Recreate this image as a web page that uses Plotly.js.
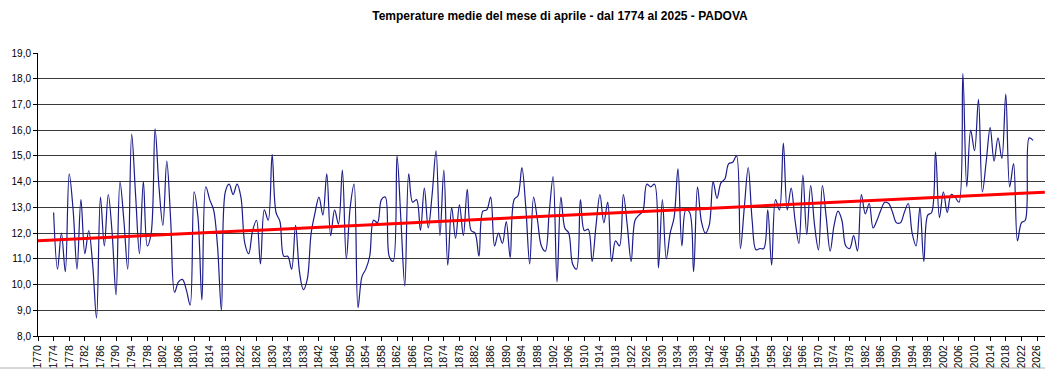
<!DOCTYPE html>
<html>
<head>
<meta charset="utf-8">
<script src="https://cdn.plot.ly/plotly-3.0.1.min.js"></script>
<style>
html,body{margin:0;padding:0;background:#fff;}
#chart{width:1045px;height:370px;}
</style>
</head>
<body>
<div id="chart"></div>
<script>
// First year of the series
var startYear = 1774;

// Mean April temperatures (°C), Padova, 1774–2025
var temps1774_1799 = [12.8,10.6,12.0,10.5,14.3,12.9,10.6,13.3,11.2,12.1,10.8,8.7,13.4,11.5,13.5,12.0,9.6,14.0,12.5,10.6,15.85,13.5,11.2,14.0,11.5,12.0];
var temps1800_1849 = [16.05,13.8,12.3,14.8,12.5,9.7,10.1,10.2,9.8,9.2,13.6,12.6,9.4,13.8,13.3,12.9,11.5,9.0,13.6,13.9,13.5,13.9,13.4,11.6,11.2,12.1,12.5,10.8,12.9,12.5,15.05,12.8,12.45,11.1,11.1,10.6,12.3,10.5,9.8,10.2,12.0,12.8,13.4,12.7,14.3,11.9,12.9,12.35,14.45,11.0];
var temps1850_1899 = [13.0,13.9,9.1,10.3,10.6,11.1,12.5,12.4,13.3,13.4,11.1,10.9,15.0,12.5,9.95,14.3,13.2,13.3,12.1,13.75,12.2,13.5,15.2,11.9,14.45,10.75,13.0,11.8,13.1,11.9,13.7,12.1,12.0,11.1,12.85,12.9,13.4,11.5,12.0,11.6,12.45,11.05,13.3,13.45,14.55,13.0,10.8,13.4,12.5,11.5];
var temps1900_1949 = [11.3,12.8,14.2,10.1,13.4,12.2,12.0,10.8,10.6,13.3,12.1,12.15,10.9,12.3,13.5,12.4,13.2,10.9,11.7,11.5,13.5,12.3,10.9,12.5,12.7,12.85,13.9,13.8,13.9,10.65,13.3,11.0,12.0,12.6,14.5,11.5,12.9,12.8,10.5,13.8,12.45,12.0,12.3,14.0,13.35,13.95,14.1,14.7,14.75,15.0];
var temps1950_1999 = [11.4,13.0,14.55,12.5,11.35,11.4,11.4,12.9,10.75,13.3,12.9,15.5,12.9,13.75,12.5,11.6,14.25,11.95,13.85,12.3,11.35,13.85,12.6,11.3,12.3,12.85,12.5,11.5,11.4,11.9,11.3,13.5,12.75,13.15,12.2,12.5,12.9,13.2,13.15,12.8,12.4,12.4,12.8,13.15,12.0,11.5,13.0,10.9,12.7,12.8];
var temps2000_2025 = [15.15,12.6,13.6,12.8,13.5,13.4,13.2,18.2,13.8,16.0,15.2,17.2,13.6,14.8,16.1,14.8,15.7,14.9,17.4,13.8,14.7,11.7,12.4,12.5,15.7,15.6];

// Linear trend line (end points)
var trendYears = [1770, 2028];
var trendValues = [11.70, 13.59];

// Axis tick years
var tickYears = [];
for (var t = 1770; t <= 2026; t += 4) tickYears.push(t);

var temps = [].concat(temps1774_1799, temps1800_1849, temps1850_1899, temps1900_1949, temps1950_1999, temps2000_2025);
var years = temps.map(function(_, i){ return startYear + i; });

var data = [
  {x: years, y: temps, type: 'scatter', mode: 'lines',
   line: {color: '#1c1c8a', width: 1.2, shape: 'spline', smoothing: 1},
   hoverinfo: 'x+y', showlegend: false},
  {x: trendYears, y: trendValues, type: 'scatter', mode: 'lines',
   line: {color: '#ff0000', width: 3}, showlegend: false}
];

var layout = {
  width: 1045, height: 370,
  margin: {l: 38, r: 0, t: 53, b: 34, pad: 0},
  paper_bgcolor: '#ffffff', plot_bgcolor: '#ffffff',
  separators: ',.',
  font: {family: 'Liberation Sans, Arial, sans-serif', size: 10, color: '#000'},
  title: {text: '<b>Temperature medie del mese di aprile - dal 1774 al 2025 - PADOVA</b>',
          x: 560/1045, xref: 'container', xanchor: 'center',
          y: 1 - 16/370, yref: 'container', yanchor: 'middle',
          font: {family: 'Liberation Sans Narrow, Arial Narrow, Liberation Sans, sans-serif', size: 12, color: '#000'}},
  xaxis: {range: [1770, 2028.05], tickmode: 'array', tickvals: tickYears,
          ticktext: tickYears.map(String), tickangle: -90,
          tickfont: {size: 10.5, family: 'Liberation Sans, Arial, sans-serif'},
          showgrid: false, zeroline: false, showline: true, linecolor: '#000', linewidth: 1,
          ticks: 'outside', ticklen: 4, tickcolor: '#000', fixedrange: true},
  yaxis: {range: [8, 19], dtick: 1, tick0: 8, tickformat: '.1f',
          tickfont: {size: 10, family: 'Liberation Sans, Arial, sans-serif'},
          showgrid: true, gridcolor: '#3a3a3a', gridwidth: 1, zeroline: false,
          showline: true, linecolor: '#000', linewidth: 1,
          ticks: 'outside', ticklen: 4, tickcolor: '#000', fixedrange: true},
  shapes: [
    {type: 'line', xref: 'paper', yref: 'paper', x0: -38/1007, x1: 1, y0: -32/283, y1: -32/283,
     line: {color: '#b0b0b0', width: 1}}
  ]
};

Plotly.newPlot('chart', data, layout, {displayModeBar: false, staticPlot: true});
</script>
</body>
</html>
